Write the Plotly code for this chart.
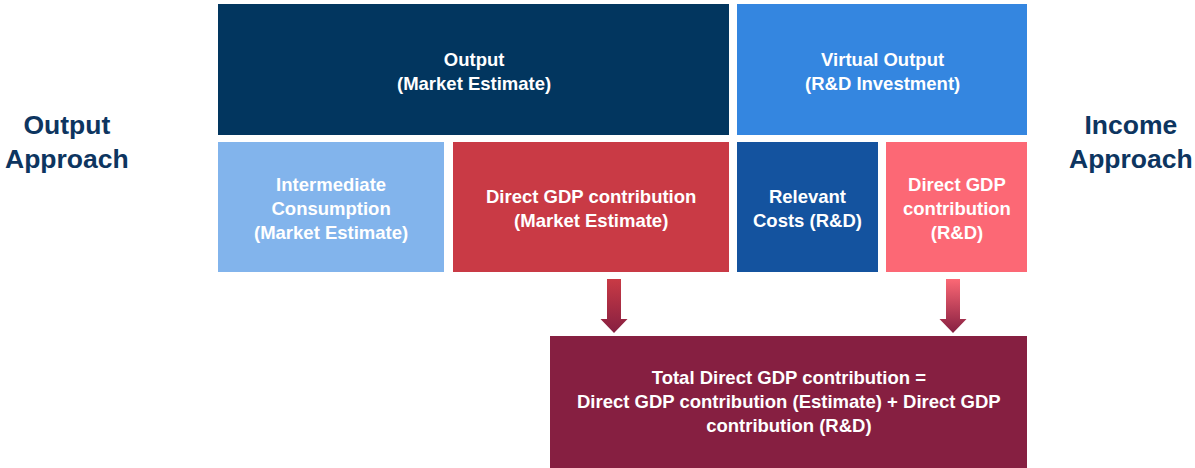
import plotly.graph_objects as go

# box texts and fill colours
box_labels = [
    "Output<br>(Market Estimate)",
    "Virtual Output<br>(R&D Investment)",
    "Intermediate<br>Consumption<br>(Market Estimate)",
    "Direct GDP contribution<br>(Market Estimate)",
    "Relevant<br>Costs (R&D)",
    "Direct GDP<br>contribution<br>(R&D)",
    "Total Direct GDP contribution =<br>Direct GDP contribution (Estimate) + Direct GDP<br>contribution (R&D)",
]
box_colors = ["#02365F", "#3486E0", "#82B4EC", "#C93A45", "#14539F", "#FC6875", "#861F41"]

side_labels = ["Output<br>Approach", "Income<br>Approach"]
arrow_colors = [["#C93A45", "#861F41"], ["#FC6875", "#861F41"]]

# layout of the diagram (pixel space, y downwards)
box_pos = [
    (218, 729, 4, 135),
    (737, 1027, 4, 135),
    (218, 444, 142, 272),
    (453, 729, 142, 272),
    (737, 878, 142, 272),
    (886, 1027, 142, 272),
    (550, 1027, 336, 472),
]
text_y = [71, 71, 208, 208, 208, 208, 401]
side_pos = [(67, 142), (1131, 142)]
arrow_cx = [614, 953]

fig = go.Figure()

shapes = []
annotations = []
for (x0, x1, y0, y1), col, lab, ty in zip(box_pos, box_colors, box_labels, text_y):
    shapes.append(dict(type="rect", xref="x", yref="y", x0=x0, x1=x1, y0=y0, y1=y1,
                       fillcolor=col, line=dict(width=0), layer="below"))
    annotations.append(dict(x=(x0 + x1) / 2, y=ty, xref="x", yref="y", text=lab,
                            showarrow=False, align="center",
                            font=dict(family="Liberation Sans, Arial", size=18.5, color="white", weight="bold")))

for (sx, sy), lab in zip(side_pos, side_labels):
    annotations.append(dict(x=sx, y=sy, xref="x", yref="y", text=lab, showarrow=False, align="center",
                            font=dict(family="Liberation Sans, Arial", size=26.5, color="#0D3560", weight="bold")))

# down arrows with a vertical gradient
for cx, cols in zip(arrow_cx, arrow_colors):
    xs = [cx - 7, cx + 7, cx + 7, cx + 13.5, cx, cx - 13.5, cx - 7, cx - 7]
    ys = [279, 279, 319, 319, 333, 319, 319, 279]
    fig.add_trace(go.Scatter(x=xs, y=ys, mode="lines", fill="toself", line=dict(width=0),
                             fillgradient=dict(type="vertical", colorscale=[[0, cols[1]], [1, cols[0]]]),
                             hoverinfo="skip", showlegend=False))

fig.update_layout(
    width=1195, height=468,
    margin=dict(l=0, r=0, t=0, b=0),
    paper_bgcolor="white", plot_bgcolor="white",
    xaxis=dict(range=[0, 1195], visible=False, fixedrange=True),
    yaxis=dict(range=[468, 0], visible=False, fixedrange=True),
    shapes=shapes, annotations=annotations,
    showlegend=False,
)

# remove the page margin so the figure sits at the window corner
fig.write_html("out.html", config={"displayModeBar": False},
               post_script="document.body.style.margin='0';")
